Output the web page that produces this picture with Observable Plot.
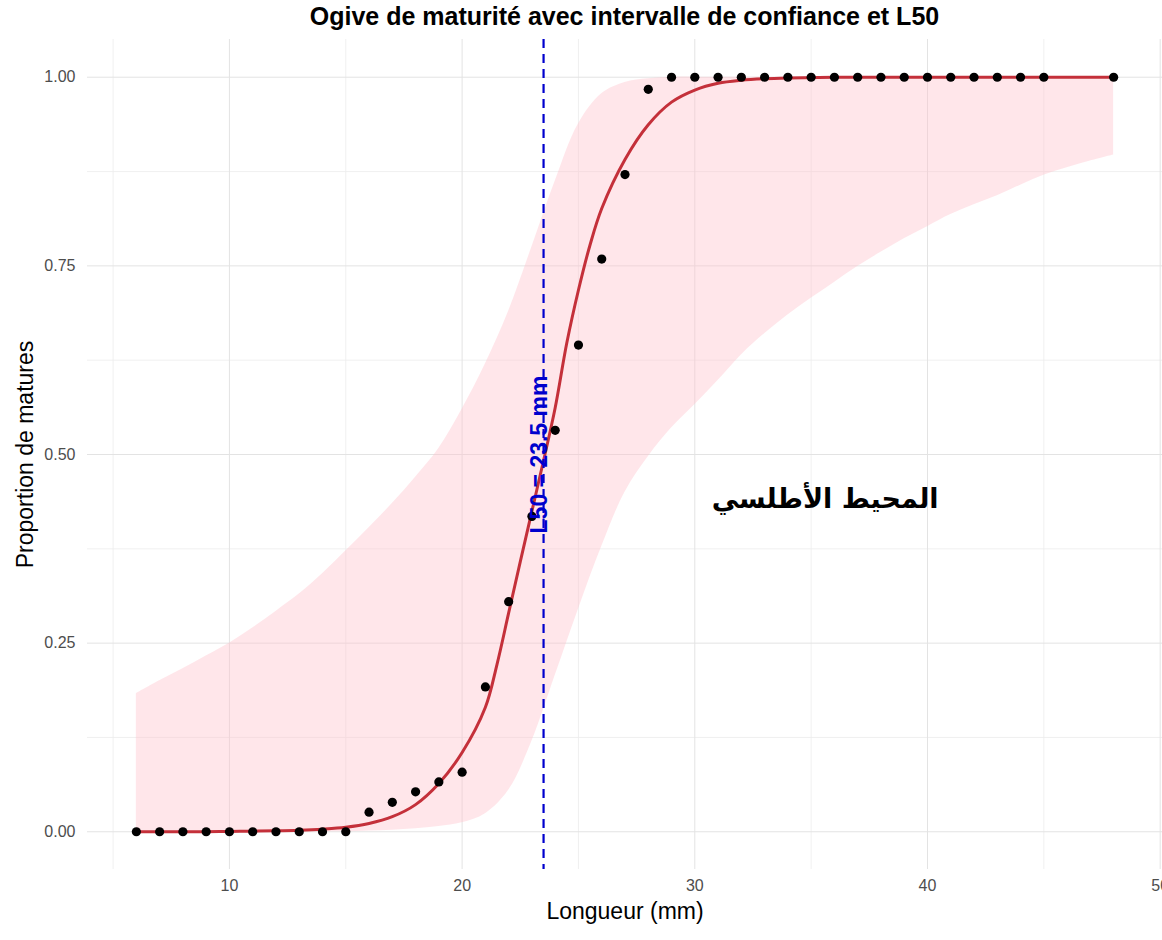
<!DOCTYPE html>
<html>
<head>
<meta charset="utf-8">
<script src="https://cdn.jsdelivr.net/npm/d3@7"></script>
<script src="https://cdn.jsdelivr.net/npm/@observablehq/plot@0.6"></script>
<style>
  html, body { margin: 0; padding: 0; background: #fff; }
  #wrap { width: 1162px; height: 940px; position: relative; overflow: hidden; }
  #title { height: 32px; line-height: 32px; padding-left: 87px; text-align: center;
           font-family: "Liberation Sans", Arial, sans-serif; font-weight: bold; font-size: 25px; color: #000; }
</style>
</head>
<body>
<div id="wrap">
  <div id="title">Ogive de maturité avec intervalle de confiance et L50</div>
  <div id="chart"></div>
</div>
<script>
// Observed proportions of mature individuals by length (mm)
const lengths = [6,7,8,9,10,11,12,13,14,15,16,17,18,19,20,21,22,23,24,25,26,27,28,29,30,31,32,33,34,35,36,37,38,39,40,41,42,43,44,45,48];
const proportions = [0,0,0,0,0,0,0,0,0,0,0.026,0.039,0.053,0.066,0.079,0.192,0.305,0.418,0.532,0.645,0.759,0.871,0.984,1,1,1,1,1,1,1,1,1,1,1,1,1,1,1,1,1,1];

// Fitted logistic ogive
const fitX = [6,7,8,9,10,11,12,13,14,15,16,17,18,19,20,21,21.5,22,22.5,23,23.5,24,24.5,25,25.5,26,27,28,29,30,31,32,33,34,36,40,44,48];
const fitY = [0,0,0,0,0.0005,0.0008,0.0012,0.002,0.0035,0.006,0.011,0.020,0.036,0.064,0.105,0.165,0.222,0.290,0.358,0.425,0.492,0.562,0.648,0.718,0.778,0.826,0.891,0.937,0.967,0.983,0.992,0.996,0.998,0.999,1,1,1,1];

// Confidence interval band
const ciX = [6,7,8,9,10,11,12,13,14,15,16,17,18,19,20,21,22,23,24,25,26,27,28,29,30,31,32,33,34,35,36,37,38,39,40,41,42,43,44,45,46,47,48];
const ciLow = [0,0,0,0,0,0,0,0,0,0,0.001,0.002,0.004,0.007,0.012,0.024,0.055,0.120,0.207,0.295,0.378,0.450,0.497,0.535,0.566,0.598,0.632,0.660,0.685,0.707,0.728,0.749,0.768,0.786,0.802,0.818,0.831,0.843,0.857,0.870,0.880,0.889,0.897];
const ciHigh = [0.183,0.200,0.216,0.233,0.250,0.270,0.292,0.315,0.342,0.372,0.403,0.435,0.470,0.508,0.560,0.620,0.690,0.775,0.862,0.938,0.978,0.993,0.998,1,1,1,1,1,1,1,1,1,1,1,1,1,1,1,1,1,1,1,1];

const L50 = 23.5;
const L50Label = ["L50 = 23.5 mm"];
const xTicks = [10, 20, 30, 40, 50];
const xMinor = [5, 15, 25, 35, 45];
const yTicks = [0, 0.25, 0.5, 0.75, 1];
const yMinor = [0.125, 0.375, 0.625, 0.875];
const annotation = [{x: 35.6, y: 0.44, label: "المحيط الأطلسي"}];
const xTitle = ["Longueur (mm)"];
const yTitle = ["Proportion de matures"];

const points = lengths.map((x, i) => ({x, y: proportions[i]}));
const fit = fitX.map((x, i) => ({x, y: fitY[i]}));
const band = ciX.map((x, i) => ({x, lo: ciLow[i], hi: ciHigh[i]}));

const font = '"Liberation Sans", Arial, sans-serif';

const chart = Plot.plot({
  width: 1162,
  height: 908,
  marginLeft: 87,
  marginRight: 0,
  marginTop: 7,
  marginBottom: 71,
  style: {fontFamily: font, background: "#fff"},
  x: {domain: [3.9, 50.1]},
  y: {domain: [-0.05, 1.05]},
  marks: [
    Plot.ruleX(xMinor, {stroke: "#ececec", strokeWidth: 0.8}),
    Plot.ruleY(yMinor, {stroke: "#ececec", strokeWidth: 0.8}),
    Plot.ruleX(xTicks, {stroke: "#e3e3e3", strokeWidth: 1}),
    Plot.ruleY(yTicks, {stroke: "#e3e3e3", strokeWidth: 1}),
    Plot.areaY(band, {x: "x", y1: "lo", y2: "hi", fill: "pink", fillOpacity: 0.4, curve: "catmull-rom"}),
    Plot.line(fit, {x: "x", y: "y", stroke: "#c4303a", strokeWidth: 3, curve: "catmull-rom"}),
    Plot.dot(points, {x: "x", y: "y", r: 4.6, fill: "#000", stroke: "none"}),
    Plot.ruleX([L50], {stroke: "#0000cd", strokeWidth: 2.2, strokeDasharray: "9,6"}),
    Plot.text(L50Label, {x: L50, y: 0.5, text: d => d, rotate: -90, dx: -4, fill: "#0000cd", fontWeight: "bold", fontSize: 23, fontFamily: font}),
    Plot.text(annotation, {x: "x", y: "y", text: "label", fontSize: 27, fill: "#000", fontFamily: '"DejaVu Sans", sans-serif', fontWeight: "bold"}),
    Plot.axisX(xTicks, {tickSize: 0, tickPadding: 10, fontSize: 16, fill: "#4d4d4d", label: null}),
    Plot.axisY(yTicks, {tickSize: 0, tickPadding: 12, fontSize: 16, fill: "#4d4d4d", label: null, tickFormat: d3.format(".2f")}),
    Plot.text(xTitle, {frameAnchor: "bottom", text: d => d, dy: 49, fontSize: 23, fill: "#000", fontFamily: font}),
    Plot.text(yTitle, {frameAnchor: "left", textAnchor: "middle", text: d => d, rotate: -90, dx: -62, fontSize: 23, fill: "#000", fontFamily: font})
  ]
});
document.getElementById("chart").appendChild(chart);
</script>
</body>
</html>
